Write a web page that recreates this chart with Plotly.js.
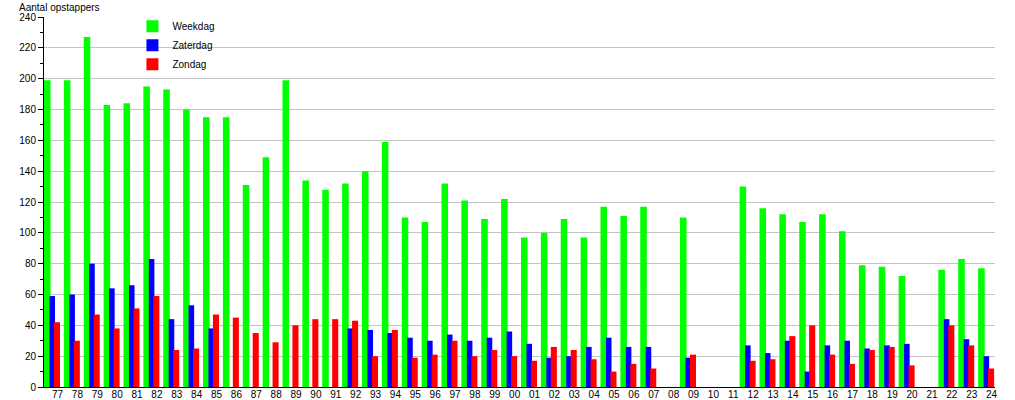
<!DOCTYPE html>
<html>
<head>
<meta charset="utf-8">
<script src="https://cdn.plot.ly/plotly-3.0.1.min.js"></script>
<style>html,body{margin:0;padding:0;background:#fff;}#chart{width:1015px;height:400px;}</style>
</head>
<body>
<div id="chart"></div>
<script>
const years = ["77","78","79","80","81","82","83","84","85","86","87","88","89","90","91","92","93","94","95","96","97","98","99","00","01","02","03","04","05","06","07","08","09","10","11","12","13","14","15","16","17","18","19","20","21","22","23","24"];
const weekdag = [199,199,227,183,184,195,193,180,175,175,131,149,199,134,128,132,140,159,110,107,132,121,109,122,97,100,109,97,117,111,117,null,110,null,null,130,116,112,107,112,101,79,78,72,null,76,83,77];
const zaterdag = [59,60,80,64,66,83,44,53,38,null,null,null,null,null,null,38,37,35,32,30,34,30,32,36,28,19,20,26,32,26,26,null,19,null,null,27,22,30,10,27,30,25,27,28,null,44,31,20];
const zondag = [42,30,47,38,51,59,24,25,47,45,35,29,40,44,44,43,20,37,19,21,30,20,24,20,17,26,24,18,10,15,12,null,21,null,null,17,18,33,40,21,15,24,26,14,null,40,27,12];
const seriesNames = ["Weekdag","Zaterdag","Zondag"];
const yTitle = "Aantal opstappers";

const idx = years.map((_, i) => i);
const font = {family: "Liberation Sans, Arial, sans-serif", size: 10, color: "#000"};

const traces = [
  {type: "bar", name: seriesNames[0], x: idx, y: weekdag, offset: 0, width: 0.33, marker: {color: "#00ff00"}},
  {type: "bar", name: seriesNames[1], x: idx, y: zaterdag, offset: 0.275, width: 0.28, marker: {color: "#0000ff"}},
  {type: "bar", name: seriesNames[2], x: idx, y: zondag, offset: 0.5, width: 0.305, marker: {color: "#ff0000"}}
];

const layout = {
  width: 1015, height: 400,
  margin: {l: 44, r: 20, t: 17, b: 13},
  paper_bgcolor: "#fff", plot_bgcolor: "#fff",
  font: font,
  barmode: "overlay",
  showlegend: true,
  legend: {x: 0.093, y: 1.014, xanchor: "left", yanchor: "top", bgcolor: "rgba(0,0,0,0)", font: font, traceorder: "normal"},
  xaxis: {
    range: [0, 47.85],
    tickmode: "array",
    tickvals: idx.map(i => i + 0.68),
    ticktext: years,
    ticks: "", showgrid: false, zeroline: false,
    showline: true, linecolor: "#000", linewidth: 1,
    tickfont: font, ticklen: 0,
    ticklabelstandoff: -2
  },
  yaxis: {
    range: [0, 240],
    dtick: 20,
    showgrid: true, gridcolor: "#c4c4c4", gridwidth: 1,
    zeroline: false,
    showline: true, linecolor: "#000", linewidth: 1,
    ticks: "outside", ticklen: 5, tickcolor: "#000",
    minor: {dtick: 10, ticks: "outside", ticklen: 3, tickcolor: "#000", showgrid: false},
    tickfont: font
  },
  annotations: [{
    text: yTitle, xref: "paper", yref: "paper", x: 0, y: 1,
    xanchor: "left", yanchor: "bottom", xshift: -27, yshift: 2,
    showarrow: false, font: font
  }]
};

Plotly.newPlot("chart", traces, layout, {displayModeBar: false, staticPlot: true});
</script>
</body>
</html>
